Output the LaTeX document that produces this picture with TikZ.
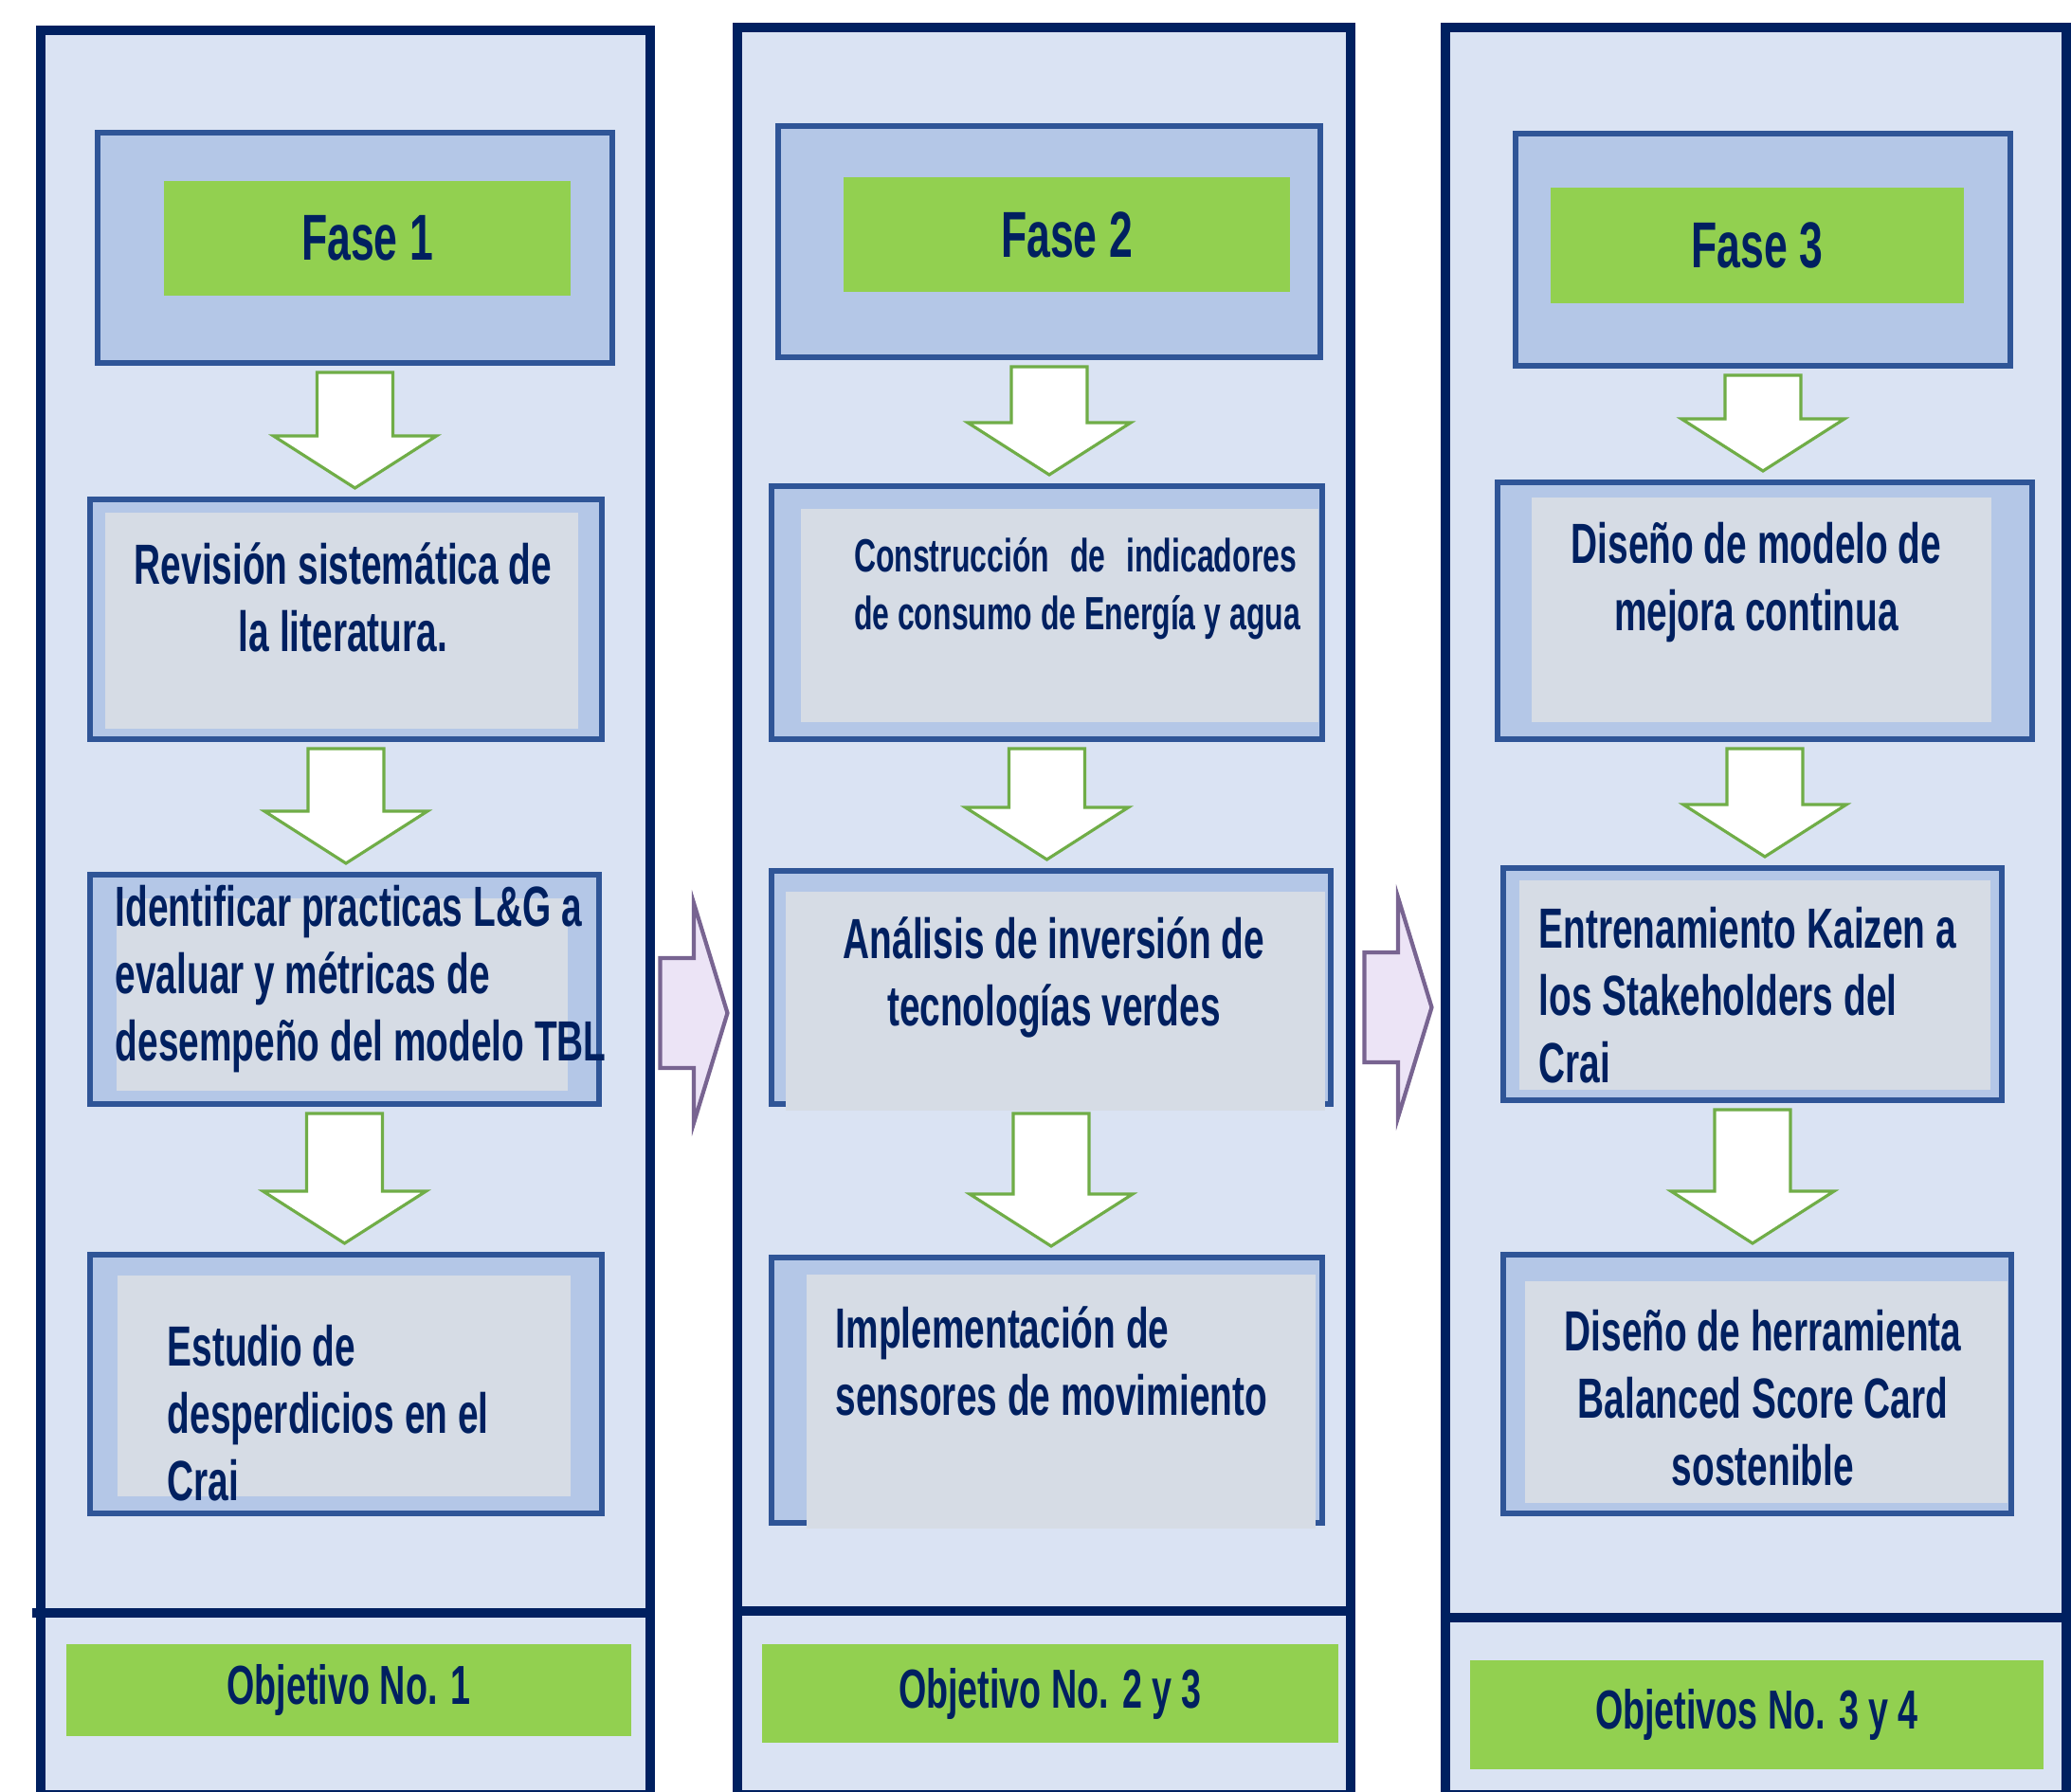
\documentclass[tikz,border=0pt]{standalone}
\usepackage{fontspec}
\newfontfamily\narrowsans{Liberation Sans}[FakeStretch=0.65]
\usetikzlibrary{calc}

\definecolor{navy}{RGB}{0,32,96}
\definecolor{colfill}{RGB}{218,227,243}
\definecolor{boxfill}{RGB}{180,199,231}
\definecolor{boxline}{RGB}{47,85,151}
\definecolor{greyfill}{RGB}{214,220,229}
\definecolor{lime}{RGB}{146,208,80}
\definecolor{arrowline}{RGB}{112,173,71}
\definecolor{lilac}{RGB}{236,228,246}
\definecolor{lilacline}{RGB}{120,100,145}

% green block arrow from one box down to the next
\newcommand{\flecha}[2]{%
  \draw[greenarrow] let \p1=(#1.south), \p2=(#2.north) in
    (\x1-0.40cm,\y1-0.10cm) -- (\x1+0.40cm,\y1-0.10cm) -- (\x1+0.40cm,\y2+0.67cm)
    -- (\x1+0.86cm,\y2+0.67cm) -- (\x1,\y2+0.12cm) -- (\x1-0.86cm,\y2+0.67cm)
    -- (\x1-0.40cm,\y2+0.67cm) -- cycle;}

% lilac arrow from one column to the next, at height #3
\newcommand{\flechalado}[3]{%
  \draw[lilacarrow] let \p1=(#1.east), \p2=(#2.west), \n1={(\x1+\x2)/2} in
    (\n1-0.355cm,#3+0.58cm) -- (\n1,#3+0.58cm) -- (\n1,#3+1.16cm)
    -- (\n1+0.355cm,#3) -- (\n1,#3-1.16cm) -- (\n1,#3-0.58cm)
    -- (\n1-0.355cm,#3-0.58cm) -- cycle;}

\tikzset{
  columna/.style={draw=navy, fill=colfill, line width=0.1cm, inner sep=0pt, outer sep=0pt},
  caja/.style={draw=boxline, fill=boxfill, line width=0.055cm, inner sep=0pt, outer sep=0pt},
  verde/.style={fill=lime, inner sep=0pt, text=navy,
    font=\narrowsans\bfseries\fontsize{19.5}{22}\selectfont},
  objetivo/.style={fill=lime, inner sep=0pt, text=navy,
    font=\narrowsans\bfseries\fontsize{16.5}{19}\selectfont},
  texto/.style={text=navy, inner sep=0pt,
    font=\narrowsans\bfseries\fontsize{17}{20.2}\selectfont},
  separador/.style={draw=navy, line width=0.1cm},
  greenarrow/.style={draw=arrowline, fill=white, line width=0.9pt},
  lilacarrow/.style={draw=lilacline, fill=lilac, line width=1.2pt}
}

\begin{document}
\begin{tikzpicture}

  \useasboundingbox (0,0) rectangle (21.85,-18.91);
  \fill[white] (0,0) rectangle (21.85,-18.91);

  % Columns
  \node[columna, minimum width=6.43cm, minimum height=18.62cm] (col1) at (3.645,-9.63) {};
  \node[columna, minimum width=6.47cm, minimum height=18.65cm] (col2) at (11.015,-9.615) {};
  \node[columna, minimum width=6.55cm, minimum height=18.65cm] (col3) at (18.525,-9.615) {};

  % Arrows between columns
  \flechalado{col1}{col2}{-10.69cm}
  \flechalado{col2}{col3}{-10.63cm}

  % Fase 1
  \node[caja, minimum width=5.43cm, minimum height=2.43cm] (fase1) at (3.745,-2.615) {};
  \node[verde, minimum width=4.29cm, minimum height=1.21cm] (g1) at (3.875,-2.515) {Fase 1};

  \node[caja, minimum width=5.40cm, minimum height=2.53cm] (rev) at (3.65,-6.535) {};
  \fill[greyfill] (1.11,-5.41) rectangle (6.10,-7.69);
  \node[texto, align=center] (rev-t) at (3.62,-6.30) {Revisión sistemática de\\la literatura.};

  \node[caja, minimum width=5.37cm, minimum height=2.42cm] (id) at (3.635,-10.44) {};
  \fill[greyfill] (1.23,-9.48) rectangle (5.99,-11.51);
  \node[texto, align=left, anchor=west] (id-t) at (1.21,-10.33)
    {Identificar practicas L\&G a\\evaluar y métricas de\\desempeño del modelo TBL};

  \node[caja, minimum width=5.40cm, minimum height=2.73cm] (est) at (3.65,-14.605) {};
  \fill[greyfill] (1.24,-13.46) rectangle (6.02,-15.79);
  \node[texto, align=left, anchor=west] (est-t) at (1.76,-14.91)
    {Estudio de\\desperdicios en el\\Crai};

  % Fase 2
  \node[caja, minimum width=5.72cm, minimum height=2.44cm] (fase2) at (11.07,-2.55) {};
  \node[verde, minimum width=4.71cm, minimum height=1.21cm] (g2) at (11.255,-2.475) {Fase 2};

  \node[caja, minimum width=5.81cm, minimum height=2.67cm] (cons) at (11.045,-6.465) {};
  \fill[greyfill] (8.45,-5.37) rectangle (13.91,-7.62);
  \node[texto, align=left, font=\narrowsans\bfseries\fontsize{14}{17.4}\selectfont] (cons-t) at (11.365,-6.215)
    {\makebox[4.67cm][s]{Construcción de indicadores}\\de consumo de Energía y agua};

  \node[caja, minimum width=5.90cm, minimum height=2.46cm] (ana) at (11.09,-10.42) {};
  \fill[greyfill] (8.29,-9.41) rectangle (13.98,-11.72);
  \node[texto, align=center] (ana-t) at (11.12,-10.315) {Análisis de inversión de\\tecnologías verdes};

  \node[caja, minimum width=5.81cm, minimum height=2.80cm] (imp) at (11.045,-14.67) {};
  \fill[greyfill] (8.51,-13.45) rectangle (13.88,-16.13);
  \node[texto, align=left, anchor=west] (imp-t) at (8.81,-14.365)
    {Implementación de\\sensores de movimiento};

  % Fase 3
  \node[caja, minimum width=5.22cm, minimum height=2.45cm] (fase3) at (18.60,-2.635) {};
  \node[verde, minimum width=4.36cm, minimum height=1.22cm] (g3) at (18.54,-2.59) {Fase 3};

  \node[caja, minimum width=5.64cm, minimum height=2.71cm] (dis) at (18.62,-6.445) {};
  \fill[greyfill] (16.16,-5.25) rectangle (21.01,-7.62);
  \node[texto, align=center] (dis-t) at (18.53,-6.145) {Diseño de modelo de\\mejora continua};

  \node[caja, minimum width=5.26cm, minimum height=2.45cm] (ent) at (18.49,-10.385) {};
  \fill[greyfill] (16.03,-9.29) rectangle (21.00,-11.50);
  \node[texto, align=left, anchor=west] (ent-t) at (16.23,-10.50)
    {Entrenamiento Kaizen a\\los Stakeholders del\\Crai};

  \node[caja, minimum width=5.36cm, minimum height=2.73cm] (her) at (18.54,-14.605) {};
  \fill[greyfill] (16.09,-13.52) rectangle (21.18,-15.86);
  \node[texto, align=center] (her-t) at (18.60,-14.75)
    {Diseño de herramienta\\Balanced Score Card\\sostenible};

  % Green arrows
  \flecha{fase1}{rev}
  \flecha{rev}{id}
  \flecha{id}{est}
  \flecha{fase2}{cons}
  \flecha{cons}{ana}
  \flecha{ana}{imp}
  \flecha{fase3}{dis}
  \flecha{dis}{ent}
  \flecha{ent}{her}

  % Objetivos
  \draw[separador] (0.34,-17.02) -- (col1.east |- 0,-17.02);
  \draw[separador] (col2.west |- 0,-17.00) -- (col2.east |- 0,-17.00);
  \draw[separador] (col3.west |- 0,-17.07) -- (col3.east |- 0,-17.07);
  \node[objetivo, minimum width=5.96cm, minimum height=0.97cm] (obj1) at (3.68,-17.835) {Objetivo No. 1};
  \node[objetivo, minimum width=6.08cm, minimum height=1.04cm] (obj2) at (11.08,-17.87) {Objetivo No. 2 y 3};
  \node[objetivo, minimum width=6.05cm, minimum height=1.15cm] (obj3) at (18.535,-18.095) {Objetivos No. 3 y 4};

\end{tikzpicture}
\end{document}
